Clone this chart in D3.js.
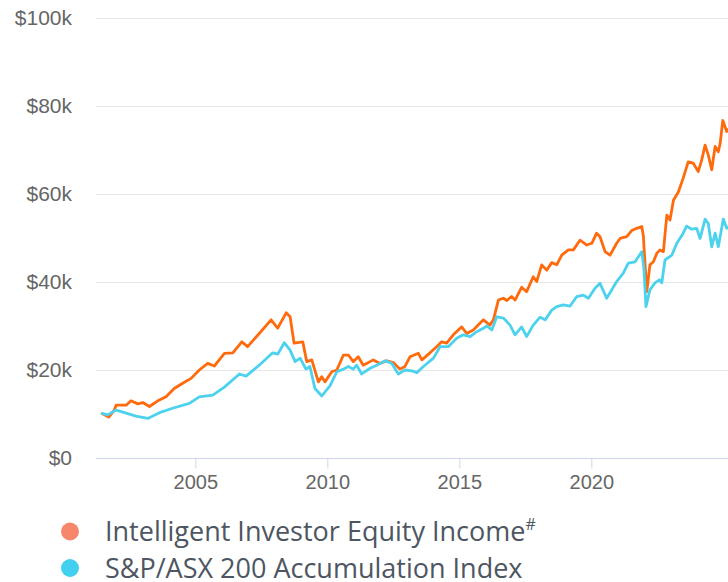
<!DOCTYPE html>
<html>

<head>
    <title>Growth of $10k</title>
    <script src="https://d3js.org/d3.v7.min.js"></script>
    <style>
        body { margin: 0; background: #fff; }
    </style>
</head>

<body>

    <svg width="728" height="582" id="mainSvg" class="svgs"></svg>
    <script>

        // values in $k, dates as decimal years
        const incomeDates = [2001.43, 2001.72, 2001.93, 2002.00, 2002.38, 2002.56, 2002.82, 2003.01, 2003.26, 2003.58,
            2003.89, 2004.20, 2004.52, 2004.84, 2005.15, 2005.47, 2005.72, 2006.10, 2006.42, 2006.76,
            2006.98, 2007.42, 2007.87, 2008.12, 2008.44, 2008.59, 2008.74, 2009.07, 2009.22, 2009.41,
            2009.66, 2009.79, 2009.91, 2010.17, 2010.36, 2010.61, 2010.80, 2010.98, 2011.17, 2011.36,
            2011.74, 2012.00, 2012.25, 2012.50, 2012.75, 2012.94, 2013.13, 2013.45, 2013.58, 2013.89,
            2014.14, 2014.33, 2014.52, 2014.77, 2015.09, 2015.28, 2015.53, 2015.91, 2016.16, 2016.29,
            2016.48, 2016.67, 2016.80, 2016.98, 2017.11, 2017.36, 2017.55, 2017.80, 2017.93, 2018.12,
            2018.31, 2018.50, 2018.69, 2018.88, 2019.13, 2019.32, 2019.57, 2019.83, 2020.02, 2020.20,
            2020.33, 2020.52, 2020.71, 2020.96, 2021.09, 2021.34, 2021.53, 2021.72, 2021.91, 2021.97,
            2022.10, 2022.22, 2022.35, 2022.48, 2022.60, 2022.73, 2022.86, 2022.98, 2023.11, 2023.30,
            2023.48, 2023.67, 2023.86, 2024.05, 2024.18, 2024.31, 2024.43, 2024.56, 2024.69, 2024.81,
            2024.88, 2024.98, 2025.13, 2025.25];
        const incomeValues = [10.2, 9.3, 10.9, 12.0, 12.0, 13.0, 12.3, 12.6, 11.7, 13.0,
            13.9, 15.8, 17.0, 18.1, 20.0, 21.5, 20.9, 23.8, 23.9, 26.4,
            25.3, 28.3, 31.4, 29.5, 33.0, 32.1, 26.1, 26.4, 21.9, 22.3,
            17.3, 18.5, 17.3, 19.6, 20.0, 23.4, 23.4, 21.9, 23.0, 21.1,
            22.3, 21.5, 22.1, 21.7, 20.2, 20.8, 23.0, 23.8, 22.3, 23.9,
            25.3, 26.4, 26.1, 28.0, 29.8, 28.3, 29.1, 31.4, 30.2, 31.4,
            35.9, 36.3, 35.8, 36.7, 35.9, 38.8, 37.8, 41.2, 40.1, 43.9,
            42.7, 44.4, 43.9, 46.1, 47.3, 47.3, 49.5, 48.4, 48.8, 51.1,
            50.3, 46.9, 46.1, 48.8, 49.9, 50.3, 51.7, 52.2, 52.6, 50.5,
            37.8, 43.9, 44.6, 46.5, 47.3, 46.9, 55.2, 54.1, 58.6, 60.5,
            63.6, 67.3, 67.0, 65.1, 67.7, 71.1, 68.9, 65.5, 70.8, 69.6,
            71.5, 76.7, 74.2, 75.0];

        const indexDates = [2001.43, 2001.68, 2002.00, 2002.38, 2002.75, 2003.20, 2003.64, 2004.14, 2004.77, 2005.15,
            2005.66, 2006.10, 2006.67, 2006.92, 2007.42, 2007.93, 2008.12, 2008.37, 2008.59, 2008.78,
            2008.97, 2009.19, 2009.34, 2009.53, 2009.79, 2010.10, 2010.36, 2010.61, 2010.80, 2010.98,
            2011.11, 2011.30, 2011.62, 2011.87, 2012.19, 2012.44, 2012.69, 2012.94, 2013.20, 2013.39,
            2013.64, 2014.02, 2014.27, 2014.58, 2014.90, 2015.15, 2015.41, 2015.66, 2015.91, 2016.04,
            2016.23, 2016.42, 2016.67, 2016.92, 2017.11, 2017.36, 2017.55, 2017.80, 2018.06, 2018.25,
            2018.50, 2018.69, 2018.94, 2019.19, 2019.45, 2019.70, 2019.89, 2020.14, 2020.33, 2020.58,
            2020.77, 2020.96, 2021.21, 2021.40, 2021.66, 2021.91, 2021.99, 2022.07, 2022.22, 2022.41,
            2022.58, 2022.67, 2022.79, 2023.05, 2023.24, 2023.48, 2023.61, 2023.80, 2023.99, 2024.12,
            2024.31, 2024.43, 2024.56, 2024.69, 2024.81, 2025.00, 2025.13, 2025.25];
        const indexValues = [10.2, 9.8, 10.9, 10.2, 9.5, 9.0, 10.3, 11.3, 12.4, 13.9,
            14.3, 16.1, 19.1, 18.6, 21.1, 23.9, 23.6, 26.2, 24.5, 21.9,
            22.7, 20.2, 20.8, 15.8, 14.1, 16.4, 19.6, 20.2, 20.8, 20.2,
            21.1, 19.1, 20.4, 21.1, 22.1, 21.5, 19.1, 20.0, 19.8, 19.4,
            20.8, 22.7, 25.3, 25.3, 27.2, 28.0, 27.6, 28.7, 29.5, 30.0,
            29.1, 32.1, 31.8, 30.2, 28.0, 29.8, 27.6, 30.2, 32.0, 31.4,
            33.6, 34.4, 34.8, 34.5, 36.7, 37.0, 36.3, 38.6, 39.7, 36.3,
            38.2, 40.1, 42.0, 44.3, 44.6, 46.9, 43.2, 34.4, 38.2, 39.8,
            40.5, 39.8, 45.0, 46.1, 48.8, 51.1, 52.7, 52.0, 52.2, 49.9,
            54.3, 53.3, 48.0, 51.1, 48.0, 54.3, 52.2, 52.6];

        const xTicks = [2005, 2010, 2015, 2020];
        const yTicks = [0, 20, 40, 60, 80, 100];
        const seriesNames = ["Intelligent Investor Equity Income", "S&P/ASX 200 Accumulation Index"];
        const seriesColors = ["#ff6a0d", "#4dd2ee"];
        const legendColors = ["#f7876b", "#41d0ef"];

        const mainSvg = d3.select('.svgs');
        const plotLeft = 96;
        const plotRight = 728;

        const xScale = d3.scaleLinear()
            .domain([2001.4, 2025.2])
            .range([100.3, 728.6]);
        const yScale = d3.scaleLinear()
            .domain([0, 100])
            .range([458, 18]);

        // horizontal grid + y labels
        const yGroup = mainSvg.append("g");
        yGroup.selectAll(".grid")
            .data(yTicks.filter(d => d > 0))
            .join("line")
            .attr("class", "grid")
            .attr("x1", plotLeft)
            .attr("x2", plotRight)
            .attr("y1", d => yScale(d) + 0.5)
            .attr("y2", d => yScale(d) + 0.5)
            .attr("stroke", "#e6e6e6")
            .attr("stroke-width", 1);

        yGroup.selectAll(".ylabel")
            .data(yTicks)
            .join("text")
            .attr("class", "ylabel")
            .attr("x", 72)
            .attr("y", d => yScale(d) + 1)
            .attr("text-anchor", "end")
            .attr("dominant-baseline", "middle")
            .attr("font-family", "'Liberation Sans', Arial, sans-serif")
            .attr("font-size", 21)
            .attr("fill", "#666666")
            .text(d => d === 0 ? "$0" : "$" + d + "k");

        // x axis
        const xAxis = d3.axisBottom(xScale)
            .tickValues(xTicks)
            .tickFormat(d3.format("d"))
            .tickSize(10)
            .tickPadding(6);

        const xAxisGroup = mainSvg.append("g")
            .attr("transform", `translate(0, ${yScale(0) + 0.5})`)
            .call(xAxis);
        xAxisGroup.select(".domain").remove();
        xAxisGroup.insert("line", ":first-child")
            .attr("x1", plotLeft)
            .attr("x2", plotRight)
            .attr("stroke", "#ccd6eb");
        xAxisGroup.selectAll(".tick line").attr("stroke", "#ccd6eb");
        xAxisGroup.selectAll(".tick text")
            .attr("font-family", "'Liberation Sans', Arial, sans-serif")
            .attr("font-size", 20)
            .attr("fill", "#666666");

        // lines
        const line = d3.line()
            .x(d => xScale(d[0]))
            .y(d => yScale(d[1]));

        const incomeData = incomeDates.map((d, i) => [d, incomeValues[i]]);
        const indexData = indexDates.map((d, i) => [d, indexValues[i]]);

        mainSvg.append("path")
            .datum(incomeData)
            .attr("d", line)
            .attr("fill", "none")
            .attr("stroke", seriesColors[0])
            .attr("stroke-width", 2.8)
            .attr("stroke-linejoin", "round");

        mainSvg.append("path")
            .datum(indexData)
            .attr("d", line)
            .attr("fill", "none")
            .attr("stroke", seriesColors[1])
            .attr("stroke-width", 2.8)
            .attr("stroke-linejoin", "round");

        // legend
        const legend = mainSvg.append("g")
            .attr("transform", "translate(70, 531.5)");

        const items = legend.selectAll(".item")
            .data(seriesNames)
            .join("g")
            .attr("class", "item")
            .attr("transform", (d, i) => `translate(0, ${i * 36.5})`);

        items.append("circle")
            .attr("r", 9)
            .attr("fill", (d, i) => legendColors[i]);

        const labels = items.append("text")
            .attr("x", 35)
            .attr("y", 9.5)
            .attr("font-family", "'Open Sans', sans-serif")
            .attr("font-size", 27)
            .attr("fill", "#4d5661")
            .text(d => d);

        labels.filter((d, i) => i === 0)
            .append("tspan")
            .attr("dy", -11)
            .attr("font-size", 16)
            .text("#");

    </script>
</body>

</html>
